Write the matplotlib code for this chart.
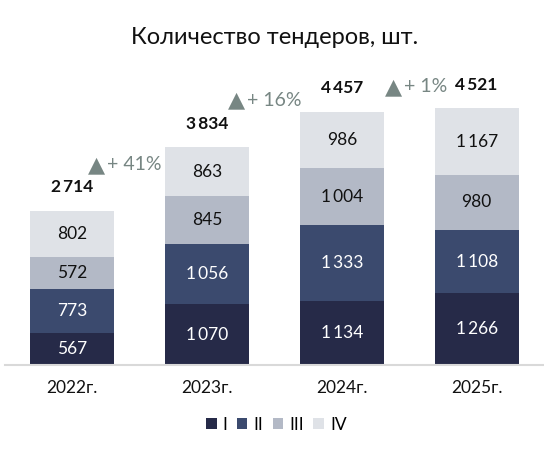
import numpy as np
import matplotlib
matplotlib.use("Agg")
import matplotlib.pyplot as plt
from matplotlib.patches import Patch

plt.rcParams['font.family'] = ['Lato', 'DejaVu Sans']

# ----------------------------------------------------------------------
# data
# ----------------------------------------------------------------------
years = ["2022г.", "2023г.", "2024г.", "2025г."]
quarters = ["I", "II", "III", "IV"]
q1 = [567, 1070, 1134, 1266]
q2 = [773, 1056, 1333, 1108]
q3 = [572, 845, 1004, 980]
q4 = [802, 863, 986, 1167]
growth_labels = ["+ 41%", "+ 16%", "+ 1%"]
growth_pos = [(0.245, 3525), (1.284, 4670), (2.449, 4900)]

colors = ["#262a48", "#3b4a6e", "#b3b9c6", "#dfe2e7"]
text_colors = ["white", "white", "#111111", "#111111"]
grey = "#778683"


def fmt(v):
    return f"{v:,}".replace(",", "\u2009")


fig = plt.figure(figsize=(5.44, 4.62), dpi=100)
ax = fig.add_axes([5 / 544, 97 / 462, 539 / 544, 306.4 / 462])

x = np.arange(len(years))
bottom = np.zeros(len(years))
for series, col, tcol in zip([q1, q2, q3, q4], colors, text_colors):
    vals = np.array(series)
    ax.bar(x, vals, width=0.624, bottom=bottom, color=col, linewidth=0)
    for xi, b, v in zip(x, bottom, vals):
        ax.text(xi, b + v / 2, fmt(v), ha="center", va="center",
                fontsize=12.5, color=tcol)
    bottom += vals

for xi, tot in zip(x, bottom):
    ax.annotate(fmt(int(tot)), (xi, tot), xytext=(0, 17),
                textcoords="offset points", ha="center", va="center",
                fontsize=12.5, fontweight="bold", color="#111111")

# growth markers: triangle + percentage
for lab, (gx, gy) in zip(growth_labels, growth_pos):
    ax.text(gx, gy, "\u25b2", ha="right", va="center", fontsize=16,
            color=grey, family="DejaVu Sans")
    ax.annotate(lab, (gx, gy), xytext=(1, 0), textcoords="offset points",
                ha="left", va="center", fontsize=14, color=grey)

ax.set_xlim(-0.5, 3.5)
ax.set_ylim(0, 5400)
ax.set_xticks(x)
ax.set_xticklabels(years, fontsize=12.5, color="#111111")
ax.tick_params(axis="x", length=0, pad=11)
ax.set_yticks([])
for s in ["top", "right", "left"]:
    ax.spines[s].set_visible(False)
ax.spines["bottom"].set_color("#d9d9d9")
ax.spines["bottom"].set_linewidth(1.5)

fig.text(0.505, 1 - 38 / 462, "Количество тендеров, шт.", ha="center",
         va="center", fontsize=17, color="#111111")

handles = [Patch(facecolor=c, edgecolor="none") for c in colors]
fig.legend(handles, quarters, loc="center", bbox_to_anchor=(0.508, 1 - 425 / 462),
           ncol=4, frameon=False, fontsize=12.5, handlelength=0.6,
           handleheight=0.6, handletextpad=0.35, columnspacing=0.55)

fig.savefig("out.png", dpi=100)
